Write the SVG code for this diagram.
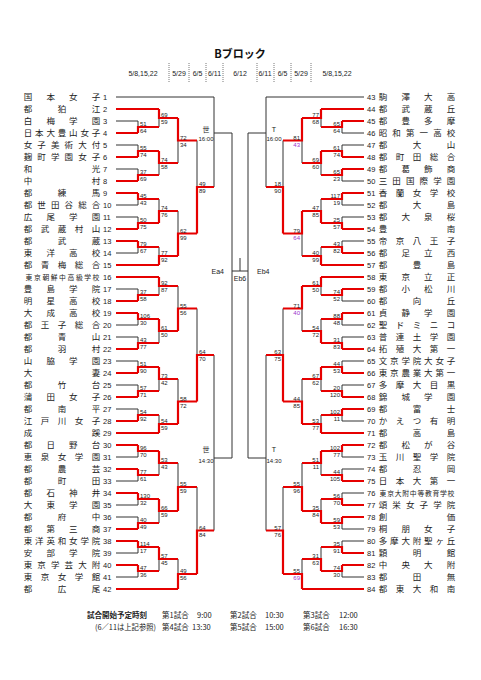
<svg xmlns="http://www.w3.org/2000/svg" width="481" height="680" viewBox="0 0 481 680">
<style>
.k{fill:none;stroke:#333;stroke-width:1}
.r{fill:none;stroke:#e60000;stroke-width:2.2}
.dl{fill:none;stroke:#555;stroke-width:0.8;stroke-dasharray:1,1}
.n{font-family:"Noto Sans CJK JP","Noto Sans CJK SC",sans-serif;font-size:8.5px;fill:#222;text-anchor:middle}
.ns{font-size:6.8px}
.no{font-family:"Liberation Sans",Arial,sans-serif;font-size:7.5px;fill:#222}
.s{font-family:"Liberation Sans",Arial,sans-serif;font-size:6px;fill:#222}
.e{text-anchor:end}
.p{fill:#9933cc}
.h{font-family:"Liberation Sans","Noto Sans CJK JP",sans-serif;font-size:7px;fill:#222;text-anchor:middle}
.f{font-family:"Noto Sans CJK JP","Liberation Sans",sans-serif;font-size:7.5px;fill:#222}
.m{font-family:"Liberation Sans","Noto Sans CJK JP",sans-serif;font-size:7px;fill:#222}
</style>
<rect width="481" height="680" fill="#fff"/>
<g id="header">
<text x="240" y="58" text-anchor="middle" style="font-family:'Noto Sans CJK JP',sans-serif;font-size:11px;font-weight:bold;fill:#111">Bブロック</text>
<text class="h" x="143" y="76">5/8,15,22</text>
<text class="h" x="179" y="76">5/29</text>
<text class="h" x="197.5" y="76">6/5</text>
<text class="h" x="214.5" y="76">6/11</text>
<text class="h" x="240" y="76">6/12</text>
<text class="h" x="265" y="76">6/11</text>
<text class="h" x="282.5" y="76">6/5</text>
<text class="h" x="301" y="76">5/29</text>
<text class="h" x="337" y="76">5/8,15,22</text>
<path class="dl" d="M169 63V82M189 63V82M206 63V82M223 63V82M257 63V82M274 63V82M291 63V82M311 63V82"/>
</g>
<g id="connectors">
<path class="k" d="M116 97H214M116 121H138M116 145H138M116 169H138M116 205H138M116 217H138M116 253H138M116 289H138M116 325H138M116 337H138M116 361H138M116 385H138M116 409H138M116 457H138M116 481H138M116 505H138M116 517H138M116 553H138M116 577H138
M138 121V127M138 145V151M138 169V175M138 205V199M138 217V223M138 253V247M138 289V295M138 325V319M138 337V343M138 361V367M138 385V391M138 409V415M138 457V451M138 481V475M138 505V499M138 517V523M138 553V547M138 577V571
M159 127V118M159 175V163M159 199V211M159 247V256M159 295V286M159 343V331M159 391V379M159 415V424M159 475V463M159 523V511M159 571V559
M178 163V140.5M178 211V233.5M178 286V308.5M178 379V401.5M178 463V487M178 559V574
M197 140.5V187M197 308.5V355M197 487V530.5
M214 97V187M214 133H232M214 355V530.5M214 458H232
M232 133V458M248 133V458M232 271H248M240 271V258
M266 97V187M266 133H248M266 355V530.5M266 458H248
M364 97H266M364 133H342M364 145H342M364 181H342M364 205H342M364 217H342M364 241H342M364 301H342M364 325H342M364 337H342M364 361H342M364 385H342M364 421H342M364 457H342M364 469H342M364 493H342M364 529H342M364 541H342M364 577H342
M342 133V127M342 145V151M342 181V175M342 205V199M342 217V223M342 241V247M342 301V295M342 325V319M342 337V343M342 361V367M342 385V391M342 421V415M342 457V451M342 469V475M342 493V499M342 529V523M342 541V547M342 577V571
M321 127V118M321 175V163M321 199V211M321 247V256M321 295V286M321 319V331M321 391V379M321 415V424M321 475V463M321 499V511M321 547V559
M302 163V140.5M302 256V233.5M302 331V308.5M302 379V401.5M302 463V487M302 559V574
M283 140.5V187M283 308.5V355M283 487V530.5"/>
<path class="r" d="M116 109H159M116 133H138M116 157H138M116 181H138M116 193H138M116 229H138M116 241H138M116 265H159M116 277H159M116 301H138M116 313H138M116 349H138M116 373H138M116 397H138M116 421H138M116 433H159M116 445H138M116 469H138M116 493H138M116 529H138M116 541H138M116 565H138M116 589H178
M138 133V127H159M138 157V151H159M138 181V175H159M138 193V199H159M138 229V223H159M138 241V247H159M138 301V295H159M138 313V319H159M138 349V343H159M138 373V367H159M138 397V391H159M138 421V415H159M138 445V451H159M138 469V475H159M138 493V499H159M138 529V523H159M138 541V547H159M138 565V571H159
M159 109V118H178M159 151V163H178M159 223V211H178M159 265V256H178M159 277V286H178M159 319V331H178M159 367V379H178M159 433V424H178M159 451V463H178M159 499V511H178M159 547V559H178
M178 118V140.5H197M178 256V233.5H197M178 331V308.5H197M178 424V401.5H197M178 511V487H197M178 589V574H197
M197 233.5V187H214M197 401.5V355H214M197 574V530.5H214
M364 109H321M364 121H342M364 157H342M364 169H342M364 193H342M364 229H342M364 253H342M364 265H321M364 277H321M364 289H342M364 313H342M364 349H342M364 373H342M364 397H342M364 409H342M364 433H321M364 445H342M364 481H342M364 505H342M364 517H342M364 553H342M364 565H342M364 589H302
M342 121V127H321M342 157V151H321M342 169V175H321M342 193V199H321M342 229V223H321M342 253V247H321M342 289V295H321M342 313V319H321M342 349V343H321M342 373V367H321M342 397V391H321M342 409V415H321M342 445V451H321M342 481V475H321M342 505V499H321M342 517V523H321M342 553V547H321M342 565V571H321
M321 109V118H302M321 151V163H302M321 223V211H302M321 265V256H302M321 277V286H302M321 343V331H302M321 367V379H302M321 433V424H302M321 451V463H302M321 523V511H302M321 571V559H302
M302 118V140.5H283M302 211V233.5H283M302 286V308.5H283M302 424V401.5H283M302 511V487H283M302 589V574H283
M283 233.5V187H266M283 401.5V355H266M283 574V530.5H266"/>
</g>
<g id="scores">
<g class="s">
<text x="140" y="126">51</text><text x="140" y="133">64</text>
<text x="140" y="150">55</text><text x="140" y="157">74</text>
<text x="140" y="174">37</text><text x="140" y="181">69</text>
<text x="140" y="198">45</text><text x="140" y="205">43</text>
<text x="140" y="222">50</text><text x="140" y="229">75</text>
<text x="140" y="246">79</text><text x="140" y="253">67</text>
<text x="140" y="294">37</text><text x="140" y="301">58</text>
<text x="140" y="318">106</text><text x="140" y="325">30</text>
<text x="140" y="342">43</text><text x="140" y="349">77</text>
<text x="140" y="366">51</text><text x="140" y="373">90</text>
<text x="140" y="390">57</text><text x="140" y="397">71</text>
<text x="140" y="414">54</text><text x="140" y="421">92</text>
<text x="140" y="450">96</text><text x="140" y="457">70</text>
<text x="140" y="474">77</text><text x="140" y="481">61</text>
<text x="140" y="498">130</text><text x="140" y="505">32</text>
<text x="140" y="522">40</text><text x="140" y="529">49</text>
<text x="140" y="546">114</text><text x="140" y="553">17</text>
<text x="140" y="570">47</text><text x="140" y="577">36</text>
<text x="161" y="117">69</text><text x="161" y="124">59</text>
<text x="161" y="162">74</text><text x="161" y="169">58</text>
<text x="161" y="210">74</text><text x="161" y="217">76</text>
<text x="161" y="255">77</text><text x="161" y="262">92</text>
<text x="161" y="285">92</text><text x="161" y="292">87</text>
<text x="161" y="330">61</text><text x="161" y="337">50</text>
<text x="161" y="378">73</text><text x="161" y="385">42</text>
<text x="161" y="423">54</text><text x="161" y="430">59</text>
<text x="161" y="462">53</text><text x="161" y="469">43</text>
<text x="161" y="510">66</text><text x="161" y="517">59</text>
<text x="161" y="558">57</text><text x="161" y="565">45</text>
<text x="180" y="139.5">72</text><text x="180" y="146.5">34</text>
<text x="180" y="232.5">62</text><text x="180" y="239.5">99</text>
<text x="180" y="307.5">55</text><text x="180" y="314.5">56</text>
<text x="180" y="400.5">58</text><text x="180" y="407.5">72</text>
<text x="180" y="486">55</text><text x="180" y="493">59</text>
<text x="180" y="573">49</text><text x="180" y="580">56</text>
<text x="199" y="186">49</text><text x="199" y="193">89</text>
<text x="199" y="354">64</text><text x="199" y="361">70</text>
<text x="199" y="529.5">64</text><text x="199" y="536.5">84</text>
</g>
<g class="s e">
<text x="340" y="126">65</text><text x="340" y="133">64</text>
<text x="340" y="150">61</text><text x="340" y="157">74</text>
<text x="340" y="174">65</text><text x="340" y="181">23</text>
<text x="340" y="198">117</text><text x="340" y="205">19</text>
<text x="340" y="222">25</text><text x="340" y="229">57</text>
<text x="340" y="246">43</text><text x="340" y="253">82</text>
<text x="340" y="294">74</text><text x="340" y="301">52</text>
<text x="340" y="318">88</text><text x="340" y="325">48</text>
<text x="340" y="342">31</text><text x="340" y="349">83</text>
<text x="340" y="366">44</text><text x="340" y="373">53</text>
<text x="340" y="390">20</text><text x="340" y="397">120</text>
<text x="340" y="414">102</text><text x="340" y="421">11</text>
<text x="340" y="450">102</text><text x="340" y="457">77</text>
<text x="340" y="474">44</text><text x="340" y="481">105</text>
<text x="340" y="498">56</text><text x="340" y="505">70</text>
<text x="340" y="522">59</text><text x="340" y="529">53</text>
<text x="340" y="546">35</text><text x="340" y="553">91</text>
<text x="340" y="570">74</text><text x="340" y="577">30</text>
<text x="319" y="117">77</text><text x="319" y="124">68</text>
<text x="319" y="162">69</text><text x="319" y="169">60</text>
<text x="319" y="210">47</text><text x="319" y="217">85</text>
<text x="319" y="255">40</text><text x="319" y="262">99</text>
<text x="319" y="285">61</text><text x="319" y="292">50</text>
<text x="319" y="330">54</text><text x="319" y="337">72</text>
<text x="319" y="378">67</text><text x="319" y="385">62</text>
<text x="319" y="423">53</text><text x="319" y="430">77</text>
<text x="319" y="462">51</text><text x="319" y="469">11</text>
<text x="319" y="510">35</text><text x="319" y="517">84</text>
<text x="319" y="558">31</text><text x="319" y="565">63</text>
<text x="300" y="139.5">81</text><text class="p" x="300" y="146.5">43</text>
<text x="300" y="232.5">79</text><text class="p" x="300" y="239.5">64</text>
<text x="300" y="307.5">71</text><text class="p" x="300" y="314.5">40</text>
<text x="300" y="400.5">44</text><text x="300" y="407.5">85</text>
<text x="300" y="486">55</text><text x="300" y="493">96</text>
<text x="300" y="573">55</text><text class="p" x="300" y="580">69</text>
<text x="281" y="186">18</text><text x="281" y="193">90</text>
<text x="281" y="354">63</text><text x="281" y="361">75</text>
<text x="281" y="529.5">57</text><text x="281" y="536.5">76</text>
</g>
</g>
<g id="matchlabels" class="m">
<text x="206" y="132" text-anchor="middle">世</text><text x="206" y="141" text-anchor="middle" style="font-size:6px">16:00</text>
<text x="206" y="452" text-anchor="middle">世</text><text x="206" y="463" text-anchor="middle" style="font-size:6px">14:30</text>
<text x="274" y="132" text-anchor="middle">T</text><text x="274" y="141" text-anchor="middle" style="font-size:6px">16:00</text>
<text x="274" y="452" text-anchor="middle">T</text><text x="274" y="463" text-anchor="middle" style="font-size:6px">14:30</text>
<text x="224" y="274" text-anchor="end">Ea4</text>
<text x="240" y="281" text-anchor="middle">Eb6</text>
<text x="257" y="274">Eb4</text>
</g>
<g id="teams-left">
<g id="t1"><text class="n" x="28 50.7 73.3 96" y="100">国本女子</text><text class="no" x="103" y="99.7">1</text></g>
<g id="t2"><text class="n" x="28 62 96" y="112">都狛江</text><text class="no" x="103" y="111.7">2</text></g>
<g id="t3"><text class="n" x="28 50.7 73.3 96" y="124">白梅学園</text><text class="no" x="103" y="123.7">3</text></g>
<g id="t4"><text class="n" x="28 39.3 50.7 62 73.3 84.7 96" y="136">日本大豊山女子</text><text class="no" x="103" y="135.7">4</text></g>
<g id="t5"><text class="n" x="28 41.6 55.2 68.8 82.4 96" y="148">女子美術大付</text><text class="no" x="103" y="147.7">5</text></g>
<g id="t6"><text class="n" x="28 41.6 55.2 68.8 82.4 96" y="160">麹町学園女子</text><text class="no" x="103" y="159.7">6</text></g>
<g id="t7"><text class="n" x="28 96" y="172">和光</text><text class="no" x="103" y="171.7">7</text></g>
<g id="t8"><text class="n" x="28 96" y="184">中村</text><text class="no" x="103" y="183.7">8</text></g>
<g id="t9"><text class="n" x="28 62 96" y="196">都練馬</text><text class="no" x="103" y="195.7">9</text></g>
<g id="t10"><text class="n" x="28 41.6 55.2 68.8 82.4 96" y="208">都世田谷総合</text><text class="no" x="103" y="207.7">10</text></g>
<g id="t11"><text class="n" x="28 50.7 73.3 96" y="220">広尾学園</text><text class="no" x="103" y="219.7">11</text></g>
<g id="t12"><text class="n" x="28 45 62 79 96" y="232">都武蔵村山</text><text class="no" x="103" y="231.7">12</text></g>
<g id="t13"><text class="n" x="28 62 96" y="244">都武蔵</text><text class="no" x="103" y="243.7">13</text></g>
<g id="t14"><text class="n" x="28 50.7 73.3 96" y="256">東洋高校</text><text class="no" x="103" y="255.7">14</text></g>
<g id="t15"><text class="n" x="28 45 62 79 96" y="268">都青梅総合</text><text class="no" x="103" y="267.7">15</text></g>
<g id="t16"><text class="n ns" x="29 37.4 45.8 54.1 62.5 70.9 79.3 87.6 96" y="279.5">東京朝鮮中高級学校</text><text class="no" x="103" y="279.7">16</text></g>
<g id="t17"><text class="n" x="28 50.7 73.3 96" y="292">豊島学院</text><text class="no" x="103" y="291.7">17</text></g>
<g id="t18"><text class="n" x="28 50.7 73.3 96" y="304">明星高校</text><text class="no" x="103" y="303.7">18</text></g>
<g id="t19"><text class="n" x="28 50.7 73.3 96" y="316">大成高校</text><text class="no" x="103" y="315.7">19</text></g>
<g id="t20"><text class="n" x="28 45 62 79 96" y="328">都王子総合</text><text class="no" x="103" y="327.7">20</text></g>
<g id="t21"><text class="n" x="28 62 96" y="340">都青山</text><text class="no" x="103" y="339.7">21</text></g>
<g id="t22"><text class="n" x="28 62 96" y="352">都羽村</text><text class="no" x="103" y="351.7">22</text></g>
<g id="t23"><text class="n" x="28 50.7 73.3 96" y="364">山脇学園</text><text class="no" x="103" y="363.7">23</text></g>
<g id="t24"><text class="n" x="28 96" y="376">大妻</text><text class="no" x="103" y="375.7">24</text></g>
<g id="t25"><text class="n" x="28 62 96" y="388">都竹台</text><text class="no" x="103" y="387.7">25</text></g>
<g id="t26"><text class="n" x="28 50.7 73.3 96" y="400">蒲田女子</text><text class="no" x="103" y="399.7">26</text></g>
<g id="t27"><text class="n" x="28 62 96" y="412">都南平</text><text class="no" x="103" y="411.7">27</text></g>
<g id="t28"><text class="n" x="28 45 62 79 96" y="424">江戸川女子</text><text class="no" x="103" y="423.7">28</text></g>
<g id="t29"><text class="n" x="28 96" y="436">成蹊</text><text class="no" x="103" y="435.7">29</text></g>
<g id="t30"><text class="n" x="28 50.7 73.3 96" y="448">都日野台</text><text class="no" x="103" y="447.7">30</text></g>
<g id="t31"><text class="n" x="28 45 62 79 96" y="460">恵泉女学園</text><text class="no" x="103" y="459.7">31</text></g>
<g id="t32"><text class="n" x="28 62 96" y="472">都農芸</text><text class="no" x="103" y="471.7">32</text></g>
<g id="t33"><text class="n" x="28 62 96" y="484">都町田</text><text class="no" x="103" y="483.7">33</text></g>
<g id="t34"><text class="n" x="28 50.7 73.3 96" y="496">都石神井</text><text class="no" x="103" y="495.7">34</text></g>
<g id="t35"><text class="n" x="28 50.7 73.3 96" y="508">大東学園</text><text class="no" x="103" y="507.7">35</text></g>
<g id="t36"><text class="n" x="28 62 96" y="520">都府中</text><text class="no" x="103" y="519.7">36</text></g>
<g id="t37"><text class="n" x="28 50.7 73.3 96" y="532">都第三商</text><text class="no" x="103" y="531.7">37</text></g>
<g id="t38"><text class="n" x="28 39.3 50.7 62 73.3 84.7 96" y="544">東洋英和女学院</text><text class="no" x="103" y="543.7">38</text></g>
<g id="t39"><text class="n" x="28 50.7 73.3 96" y="556">安部学院</text><text class="no" x="103" y="555.7">39</text></g>
<g id="t40"><text class="n" x="28 41.6 55.2 68.8 82.4 96" y="568">東京学芸大附</text><text class="no" x="103" y="567.7">40</text></g>
<g id="t41"><text class="n" x="28 45 62 79 96" y="580">東京女学館</text><text class="no" x="103" y="579.7">41</text></g>
<g id="t42"><text class="n" x="28 62 96" y="592">都広尾</text><text class="no" x="103" y="591.7">42</text></g>
</g>
<g id="teams-right">
<g id="t43"><text class="no" x="367" y="99.7">43</text><text class="n" x="383 405.7 428.3 451" y="100">駒澤大高</text></g>
<g id="t44"><text class="no" x="367" y="111.7">44</text><text class="n" x="383 405.7 428.3 451" y="112">都武蔵丘</text></g>
<g id="t45"><text class="no" x="367" y="123.7">45</text><text class="n" x="383 405.7 428.3 451" y="124">都豊多摩</text></g>
<g id="t46"><text class="no" x="367" y="135.7">46</text><text class="n" x="383 396.6 410.2 423.8 437.4 451" y="136">昭和第一高校</text></g>
<g id="t47"><text class="no" x="367" y="147.7">47</text><text class="n" x="383 417 451" y="148">都大山</text></g>
<g id="t48"><text class="no" x="367" y="159.7">48</text><text class="n" x="383 400 417 434 451" y="160">都町田総合</text></g>
<g id="t49"><text class="no" x="367" y="171.7">49</text><text class="n" x="383 405.7 428.3 451" y="172">都葛飾商</text></g>
<g id="t50"><text class="no" x="367" y="183.7">50</text><text class="n" x="383 396.6 410.2 423.8 437.4 451" y="184">三田国際学園</text></g>
<g id="t51"><text class="no" x="367" y="195.7">51</text><text class="n" x="383 400 417 434 451" y="196">香蘭女学校</text></g>
<g id="t52"><text class="no" x="367" y="207.7">52</text><text class="n" x="383 417 451" y="208">都大島</text></g>
<g id="t53"><text class="no" x="367" y="219.7">53</text><text class="n" x="383 405.7 428.3 451" y="220">都大泉桜</text></g>
<g id="t54"><text class="no" x="367" y="231.7">54</text><text class="n" x="383 451" y="232">豊南</text></g>
<g id="t55"><text class="no" x="367" y="243.7">55</text><text class="n" x="383 400 417 434 451" y="244">帝京八王子</text></g>
<g id="t56"><text class="no" x="367" y="255.7">56</text><text class="n" x="383 405.7 428.3 451" y="256">都足立西</text></g>
<g id="t57"><text class="no" x="367" y="267.7">57</text><text class="n" x="383 417 451" y="268">都豊島</text></g>
<g id="t58"><text class="no" x="367" y="279.7">58</text><text class="n" x="383 405.7 428.3 451" y="280">東京立正</text></g>
<g id="t59"><text class="no" x="367" y="291.7">59</text><text class="n" x="383 405.7 428.3 451" y="292">都小松川</text></g>
<g id="t60"><text class="no" x="367" y="303.7">60</text><text class="n" x="383 417 451" y="304">都向丘</text></g>
<g id="t61"><text class="no" x="367" y="315.7">61</text><text class="n" x="383 405.7 428.3 451" y="316">貞静学園</text></g>
<g id="t62"><text class="no" x="367" y="327.7">62</text><text class="n" x="383 400 417 434 451" y="328">聖ドミニコ</text></g>
<g id="t63"><text class="no" x="367" y="339.7">63</text><text class="n" x="383 400 417 434 451" y="340">普連土学園</text></g>
<g id="t64"><text class="no" x="367" y="351.7">64</text><text class="n" x="383 400 417 434 451" y="352">拓殖大第一</text></g>
<g id="t65"><text class="no" x="367" y="363.7">65</text><text class="n" x="383 394.3 405.7 417 428.3 439.7 451" y="364">文京学院大女子</text></g>
<g id="t66"><text class="no" x="367" y="375.7">66</text><text class="n" x="383 394.3 405.7 417 428.3 439.7 451" y="376">東京農業大第一</text></g>
<g id="t67"><text class="no" x="367" y="387.7">67</text><text class="n" x="383 400 417 434 451" y="388">多摩大目黒</text></g>
<g id="t68"><text class="no" x="367" y="399.7">68</text><text class="n" x="383 405.7 428.3 451" y="400">錦城学園</text></g>
<g id="t69"><text class="no" x="367" y="411.7">69</text><text class="n" x="383 417 451" y="412">都富士</text></g>
<g id="t70"><text class="no" x="367" y="423.7">70</text><text class="n" x="383 400 417 434 451" y="424">かえつ有明</text></g>
<g id="t71"><text class="no" x="367" y="435.7">71</text><text class="n" x="383 417 451" y="436">都高島</text></g>
<g id="t72"><text class="no" x="367" y="447.7">72</text><text class="n" x="383 405.7 428.3 451" y="448">都松が谷</text></g>
<g id="t73"><text class="no" x="367" y="459.7">73</text><text class="n" x="383 400 417 434 451" y="460">玉川聖学院</text></g>
<g id="t74"><text class="no" x="367" y="471.7">74</text><text class="n" x="383 417 451" y="472">都忍岡</text></g>
<g id="t75"><text class="no" x="367" y="483.7">75</text><text class="n" x="383 400 417 434 451" y="484">日本大第一</text></g>
<g id="t76"><text class="no" x="367" y="495.7">76</text><text class="n ns" x="383 390.6 398.1 405.7 413.2 420.8 428.3 435.9 443.4 451" y="495.5">東京大附中等教育学校</text></g>
<g id="t77"><text class="no" x="367" y="507.7">77</text><text class="n" x="383 396.6 410.2 423.8 437.4 451" y="508">頌栄女子学院</text></g>
<g id="t78"><text class="no" x="367" y="519.7">78</text><text class="n" x="383 451" y="520">創価</text></g>
<g id="t79"><text class="no" x="367" y="531.7">79</text><text class="n" x="383 405.7 428.3 451" y="532">桐朋女子</text></g>
<g id="t80"><text class="no" x="367" y="543.7">80</text><text class="n" x="383 394.3 405.7 417 428.3 439.7 451" y="544">多摩大附聖ヶ丘</text></g>
<g id="t81"><text class="no" x="367" y="555.7">81</text><text class="n" x="383 417 451" y="556">穎明館</text></g>
<g id="t82"><text class="no" x="367" y="567.7">82</text><text class="n" x="383 405.7 428.3 451" y="568">中央大附</text></g>
<g id="t83"><text class="no" x="367" y="579.7">83</text><text class="n" x="383 417 451" y="580">都田無</text></g>
<g id="t84"><text class="no" x="367" y="591.7">84</text><text class="n" x="383 400 417 434 451" y="592">都東大和南</text></g>
</g>
<g id="footer" class="f">
<text x="87" y="618" style="font-weight:bold">試合開始予定時刻</text>
<text x="162" y="618">第1試合</text><text x="197" y="618">9:00</text>
<text x="230" y="618">第2試合</text><text x="265" y="618">10:30</text>
<text x="303" y="618">第3試合</text><text x="339" y="618">12:00</text>
<text x="95" y="630" textLength="61" lengthAdjust="spacingAndGlyphs">(6／11は上記参照)</text>
<text x="162" y="630">第4試合</text><text x="192" y="630">13:30</text>
<text x="230" y="630">第5試合</text><text x="265" y="630">15:00</text>
<text x="303" y="630">第6試合</text><text x="339" y="630">16:30</text>
</g>
</svg>
